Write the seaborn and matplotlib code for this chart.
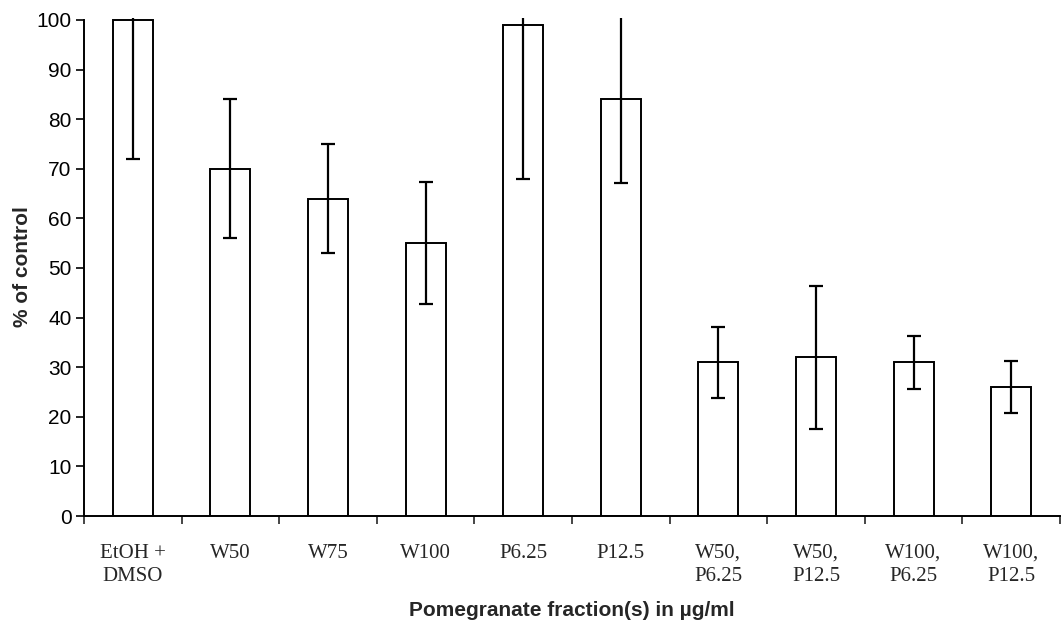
import numpy as np
import matplotlib
matplotlib.use('Agg')
import matplotlib.pyplot as plt
import seaborn as sns
import pandas as pd

# values
groups = ['EtOH +\nDMSO', 'W50', 'W75', 'W100', 'P6.25', 'P12.5',
          'W50,\nP6.25', 'W50,\nP12.5', 'W100,\nP6.25', 'W100,\nP12.5']
pct_control = [100, 70, 64, 55, 99, 84, 31, 32, 31, 26]
err = [28, 14, 11, 12.3, 31, 16.8, 7.2, 14.4, 5.3, 5.3]
yticks = list(range(0, 101, 10))

sns.set_style('white')
plt.rcParams['font.family'] = ['Liberation Sans', 'DejaVu Sans']

df = pd.DataFrame({'group': groups, 'pct': pct_control, 'err': err})

fig = plt.figure(figsize=(10.61, 6.34), dpi=100)
ax = fig.add_axes([84 / 1061, 118 / 634, 976 / 1061, 498 / 634])

sns.barplot(data=df, x='group', y='pct', color='white', edgecolor='black',
            linewidth=1.4, width=0.41, ax=ax, errorbar=None, saturation=1)
ax.errorbar(np.arange(len(groups)), df['pct'], yerr=df['err'], fmt='none',
            ecolor='black', elinewidth=1.6, capsize=5, capthick=1.6)

ax.set_xlim(-0.5, len(groups) - 0.5)
ax.set_ylim(0, 100.4)
ax.set_yticks(yticks)
ax.tick_params(axis='y', labelsize=15, length=6, width=1.2, direction='out',
               left=True, pad=3, colors='black')
ax.spines['left'].set_bounds(0, 100)

# category boundaries as major ticks, labels on minor ticks
ax.set_xticks(np.arange(-0.5, len(groups), 1.0))
ax.set_xticklabels([])
ax.set_xticks(np.arange(len(groups)), minor=True)
ax.set_xticklabels(groups, minor=True, family=['Liberation Serif'],
                   fontsize=15, linespacing=1.3, va='top')
ax.tick_params(axis='x', which='major', length=6, width=1.2, direction='out',
               bottom=True)
ax.tick_params(axis='x', which='minor', length=0, pad=20)

for side in ['top', 'right']:
    ax.spines[side].set_visible(False)
for side in ['left', 'bottom']:
    ax.spines[side].set_linewidth(1.4)
    ax.spines[side].set_color('black')

ax.set_xlabel('Pomegranate fraction(s) in µg/ml', fontsize=15,
              fontweight='bold', labelpad=11)
ax.set_ylabel('% of control', fontsize=15, fontweight='bold', labelpad=3)

fig.savefig('out.png', dpi=100)
